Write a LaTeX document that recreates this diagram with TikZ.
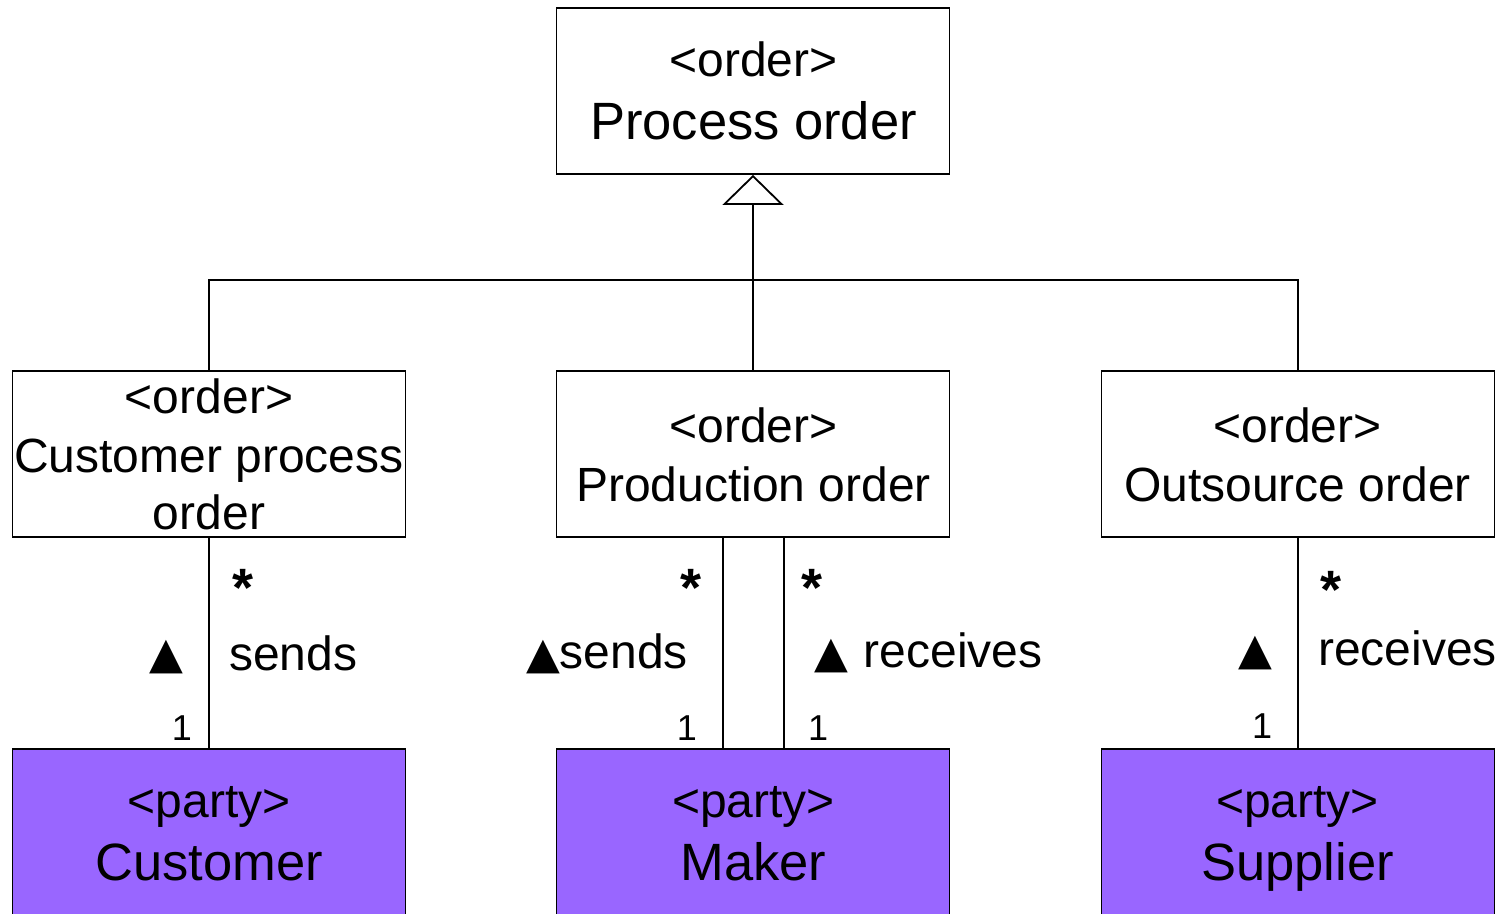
\documentclass[tikz,border=0pt]{standalone}
\usepackage{fontspec}
\setmainfont{Liberation Sans}
\newfontfamily\symfont{DejaVu Sans}
\usetikzlibrary{arrows.meta}
\newcommand\midtxt{\fontsize{48}{57}\selectfont}
\newcommand\bigtxt{\fontsize{52.5}{60}\selectfont}
\newcommand\smalltxt{\fontsize{36}{40}\selectfont}
\newcommand\startxt{\fontsize{54}{60}\selectfont\bfseries}
\newcommand\tri{{\symfont\fontsize{44}{44}\selectfont ▲}}
\begin{document}
\begin{tikzpicture}[x=1pt,y=-1pt,
  obox/.style={draw, line width=1.8pt, rectangle, minimum width=393pt, minimum height=166pt, inner sep=0pt},
  pbox/.style={obox, fill=partyc, minimum height=180pt},
  txt/.style={inner sep=0pt, outer sep=0pt, anchor=base},
  conn/.style={line width=1.8pt},
]
\definecolor{partyc}{HTML}{9966FF}
\clip (0,0) rectangle (1504,913);
\fill[white] (0,0) rectangle (1504,913);
% boxes
\node[obox] (proc) at (753,91) {};
\node[obox] (cpo) at (209,454) {};
\node[obox] (po) at (753,454) {};
\node[obox] (oo) at (1298,454) {};
\node[pbox] (cust) at (209,839) {};
\node[pbox] (maker) at (753,839) {};
\node[pbox] (sup) at (1298,839) {};
% box texts
\node[txt] (t1) at (753.5,76) {\midtxt <order>};
\node[txt] (t2) at (753.5,139) {\bigtxt Process order};
\node[txt] (t3) at (209,413) {\midtxt <order>};
\node[txt] (t4) at (209,472) {\midtxt Customer process};
\node[txt] (t5) at (209,529) {\midtxt order};
\node[txt] (t6) at (753.5,442) {\midtxt <order>};
\node[txt] (t7) at (753.5,501) {\midtxt Production order};
\node[txt] (t8) at (1297.5,442) {\midtxt <order>};
\node[txt] (t9) at (1297.5,501) {\midtxt Outsource order};
\node[txt] (p1) at (209,817) {\midtxt <party>};
\node[txt] (p2) at (209,880) {\bigtxt Customer};
\node[txt] (p3) at (753.5,817) {\midtxt <party>};
\node[txt] (p4) at (753.5,880) {\bigtxt Maker};
\node[txt] (p5) at (1297.5,817) {\midtxt <party>};
\node[txt] (p6) at (1297.5,880) {\bigtxt Supplier};
% generalization
\coordinate (bar) at (0,280);
\draw[conn, -{Triangle[open, length=30pt, width=61pt, line width=1.8pt]}] (po.north) -- (proc.south);
\draw[conn] (cpo.north) -- (cpo.north |- bar) -- (oo.north |- bar) -- (oo.north);
% associations
\draw[conn] (cpo.south) -- (cust.north);
\draw[conn] ([xshift=-30pt]po.south) -- ([xshift=-30pt]maker.north);
\draw[conn] ([xshift=31pt]po.south) -- ([xshift=31pt]maker.north);
\draw[conn] (oo.south) -- (sup.north);
% labels left
\node[txt] (s1) at (243,606) {\startxt *};
\node[txt] (a1) at (166,668) {\tri};
\node[txt, anchor=base west] (l1) at (229,670) {\midtxt sends};
\node[txt] (n1) at (182,740) {\smalltxt 1};
% labels middle
\node[txt] (s2) at (691,606) {\startxt *};
\node[txt, anchor=base east] (l2) at (688,668) {\midtxt \tri sends};
\node[txt] (n2) at (687,740) {\smalltxt 1};
\node[txt] (s3) at (812,606) {\startxt *};
\node[txt, anchor=base west] (l3) at (814,667) {\midtxt \tri\hspace{16pt}receives};
\node[txt] (n3) at (818,740) {\smalltxt 1};
% labels right
\node[txt] (s4) at (1331,608) {\startxt *};
\node[txt] (a4) at (1255,664) {\tri};
\node[txt, anchor=base west] (l4) at (1318,665) {\midtxt receives};
\node[txt] (n4) at (1262,738) {\smalltxt 1};
\end{tikzpicture}
\end{document}
